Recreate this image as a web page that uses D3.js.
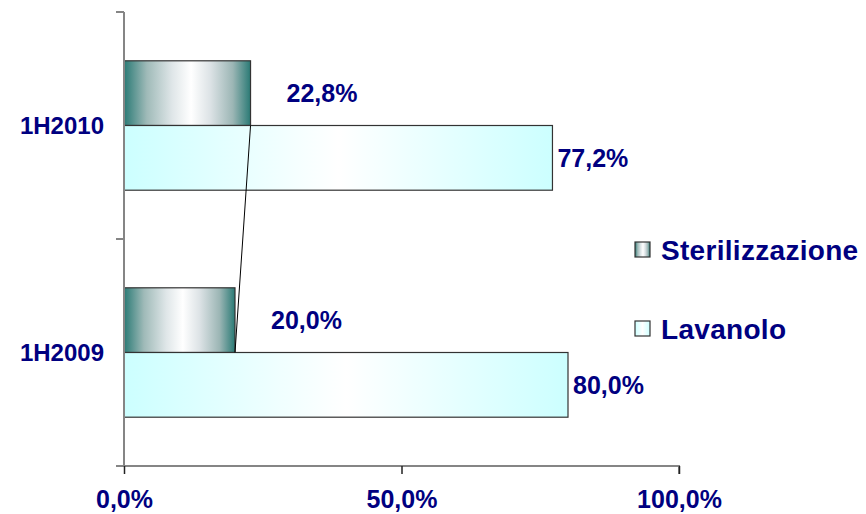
<!DOCTYPE html>
<html>
<head>
<meta charset="utf-8">
<script src="https://cdn.jsdelivr.net/npm/d3@7"></script>
<style>
  html, body { margin: 0; padding: 0; background: #fff; }
  svg { display: block; font-family: Arial, "Liberation Sans", sans-serif; }
</style>
</head>
<body>
<svg id="chart" width="866" height="514"></svg>
<script>
const categories = ["1H2010", "1H2009"];
const seriesNames = ["Sterilizzazione", "Lavanolo"];
const sterilizzazione = [22.8, 20.0];
const lavanolo = [77.2, 80.0];
const xTicks = [0, 50, 100];
const valueLabels = { Sterilizzazione: ["22,8%", "20,0%"], Lavanolo: ["77,2%", "80,0%"] };
const tickLabels = ["0,0%", "50,0%", "100,0%"];

const seriesValues = { Sterilizzazione: sterilizzazione, Lavanolo: lavanolo };
const navy = "#000080";

const svg = d3.select("#chart");
const defs = svg.append("defs");

const gS = defs.append("linearGradient").attr("id", "gradS")
  .attr("x1", "0%").attr("x2", "100%").attr("y1", "0%").attr("y2", "0%");
[["0%", "#2a7a75"], ["18%", "#9fbab8"], ["38%", "#dfe6e8"], ["53%", "#ffffff"],
 ["68%", "#dde3e6"], ["86%", "#9cb6b5"], ["100%", "#2a7a75"]]
  .forEach(([o, c]) => gS.append("stop").attr("offset", o).attr("stop-color", c));

const gL = defs.append("linearGradient").attr("id", "gradL")
  .attr("x1", "0%").attr("x2", "100%").attr("y1", "0%").attr("y2", "0%");
[["0%", "#ccffff"], ["50%", "#ffffff"], ["100%", "#ccffff"]]
  .forEach(([o, c]) => gL.append("stop").attr("offset", o).attr("stop-color", c));

const fills = { Sterilizzazione: "url(#gradS)", Lavanolo: "url(#gradL)" };

const x = d3.scaleLinear().domain([0, 100]).range([124, 679]);
const y = d3.scaleBand().domain(categories).range([12, 466])
  .paddingInner(0.43).paddingOuter(0.215);
const ys = d3.scaleBand().domain(seriesNames).range([0, y.bandwidth()]);

// bars
categories.forEach((cat, i) => {
  seriesNames.forEach(s => {
    const v = seriesValues[s][i];
    svg.append("rect")
      .attr("x", x(0))
      .attr("y", y(cat) + ys(s))
      .attr("width", x(v) - x(0))
      .attr("height", ys.bandwidth())
      .attr("fill", fills[s])
      .attr("stroke", "#333")
      .attr("stroke-width", 1.2);
  });
});

// series line connecting Sterilizzazione bar ends
svg.append("line")
  .attr("x1", x(sterilizzazione[0])).attr("y1", y(categories[0]) + ys("Lavanolo"))
  .attr("x2", x(sterilizzazione[1])).attr("y2", y(categories[1]) + ys("Lavanolo"))
  .attr("stroke", "#000").attr("stroke-width", 1);

// y axis
const yAxisG = svg.append("g");
yAxisG.append("line").attr("x1", 124).attr("x2", 124).attr("y1", 12).attr("y2", 466)
  .attr("stroke", "#858585").attr("stroke-width", 2);
const catBoundaries = [y.range()[0], y(categories[1]) - (y.step() - y.bandwidth()) / 2, y.range()[1]];
catBoundaries.forEach(t => {
  yAxisG.append("line").attr("x1", 116).attr("x2", 124).attr("y1", t).attr("y2", t)
    .attr("stroke", "#858585").attr("stroke-width", 2);
});

// x axis
const xAxis = d3.axisBottom(x).tickValues(xTicks).tickSize(8)
  .tickFormat((d, i) => tickLabels[i]);
const xg = svg.append("g").attr("transform", "translate(0,466)").call(xAxis);
xg.select(".domain").attr("stroke", "#858585").attr("stroke-width", 2)
  .attr("d", "M116,0H679V8");
xg.selectAll(".tick line").attr("stroke", "#222").attr("stroke-width", 1.5);
xg.selectAll(".tick text")
  .attr("y", 24).attr("dy", "0.71em")
  .attr("fill", navy).attr("font-size", 25).attr("font-weight", "bold")
  .attr("font-family", "Arial, 'Liberation Sans', sans-serif");

// category labels
categories.forEach(cat => {
  svg.append("text")
    .attr("x", 104).attr("y", y(cat) + y.bandwidth() / 2)
    .attr("dy", "0.36em").attr("text-anchor", "end")
    .attr("fill", navy).attr("font-size", 24).attr("font-weight", "bold")
    .text(cat);
});

// data labels
const labelOffset = { Sterilizzazione: 36, Lavanolo: 5 };
categories.forEach((cat, i) => {
  seriesNames.forEach(s => {
    const v = seriesValues[s][i];
    svg.append("text")
      .attr("x", x(v) + labelOffset[s])
      .attr("y", y(cat) + ys(s) + ys.bandwidth() / 2)
      .attr("dy", "0.36em")
      .attr("fill", navy).attr("font-size", 25).attr("font-weight", "bold")
      .text(valueLabels[s][i]);
  });
});

// legend
const legendY = { Sterilizzazione: 250, Lavanolo: 329 };
seriesNames.forEach(s => {
  svg.append("rect")
    .attr("x", 635).attr("y", legendY[s] - 8)
    .attr("width", 15).attr("height", 15)
    .attr("fill", fills[s]).attr("stroke", "#333").attr("stroke-width", 1.2);
  svg.append("text")
    .attr("x", 661).attr("y", legendY[s])
    .attr("dy", "0.36em")
    .attr("fill", navy).attr("font-size", 28).attr("font-weight", "bold")
    .attr("letter-spacing", 0.3)
    .text(s);
});
</script>
</body>
</html>
